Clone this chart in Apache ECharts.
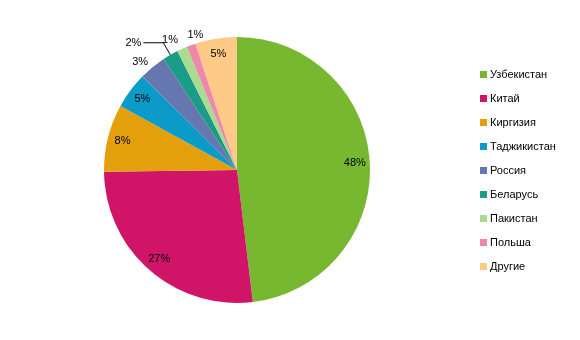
<!DOCTYPE html>
<html><head><meta charset="utf-8">
<script src="https://cdn.jsdelivr.net/npm/echarts@6/dist/echarts.min.js"></script>
<style>html,body{margin:0;padding:0;background:#fff}#c{width:580px;height:340px}</style>
</head><body><div id="c"></div>
<script>
const categories = ['Узбекистан','Китай','Киргизия','Таджикистан','Россия','Беларусь','Пакистан','Польша','Другие'];
const values = [48.1, 26.7, 8.2, 4.4, 3.3, 1.9, 1.25, 1.1, 5.05];
const labelsText = ['48%','27%','8%','5%','3%','2%','1%','1%','5%'];
const colors = ['#77B830','#D01468','#E3A00C','#0A9BC8','#6677B0','#1A9C88','#A8DC90','#EE88A8','#FFC987'];

const FONT = 'Liberation Sans';
// per-slice label placement (outside for the small slices)
const outsideLabel = {
  4: {length: 7, length2: 0, line: false},
  5: {length: 14, length2: 20, line: true},
  6: {length: 10, length2: 0, line: false},
  7: {length: 11, length2: -16, line: false}
};

const pieData = categories.map((n, i) => ({name: n, value: values[i], itemStyle: {color: colors[i]}}));
const labelData = categories.map((n, i) => {
  const o = outsideLabel[i];
  const d = {name: n, value: values[i]};
  if (o) {
    d.label = {position: 'outside', distanceToLabelLine: o.line ? 2 : 0};
    d.labelLine = {show: o.line, length: o.length, length2: o.length2, lineStyle: {color: '#000', width: 1}};
  }
  return d;
});

const chart = echarts.init(document.getElementById('c'), null, {renderer: 'canvas'});
chart.setOption({
  animation: false,
  backgroundColor: '#fff',
  color: colors,
  legend: {
    orient: 'vertical', left: 475, top: 64,
    itemWidth: 7, itemHeight: 7, itemGap: 13,
    icon: 'rect',
    textStyle: {fontFamily: FONT, fontSize: 11, color: '#000', padding: [0,0,0,-2]},
    data: categories
  },
  series: [
    {
      type: 'pie', center: [237, 170], radius: [0, 133], startAngle: 90, clockwise: true,
      label: {show: false}, labelLine: {show: false},
      emphasis: {disabled: true},
      data: pieData
    },
    {
      type: 'pie', center: [237, 170], radius: [97, 133], startAngle: 90, clockwise: true,
      silent: true, avoidLabelOverlap: false,
      itemStyle: {color: 'rgba(0,0,0,0)'},
      label: {show: true, position: 'inside', color: '#000', fontFamily: FONT, fontSize: 11,
        formatter: p => labelsText[p.dataIndex]},
      labelLine: {show: false},
      emphasis: {disabled: true},
      data: labelData
    }
  ]
});
</script></body></html>
